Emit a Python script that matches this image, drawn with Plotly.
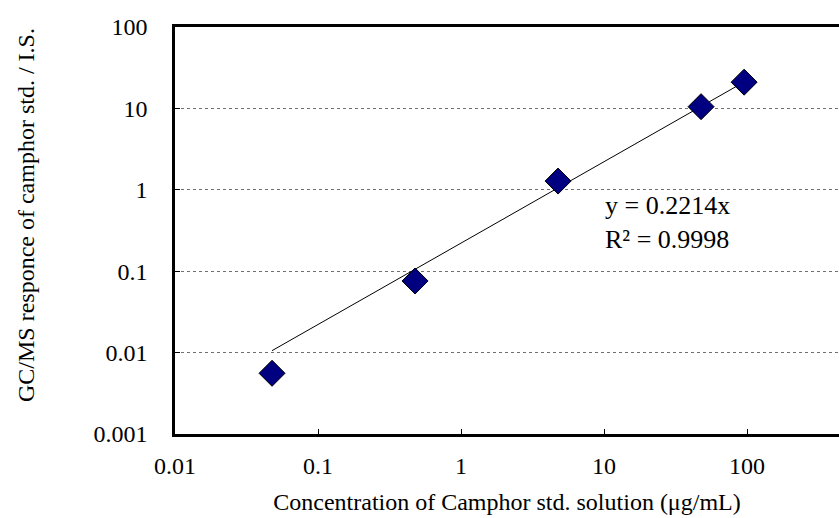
import numpy as np
import plotly.graph_objects as go

conc = [0.0477, 0.477, 4.77, 47.7, 95.4]
resp = [0.00557, 0.0758, 1.28, 10.5, 21.0]
slope = 0.2214
y_ticks = [0.001, 0.01, 0.1, 1, 10, 100]
y_tick_labels = ["0.001", "0.01", "0.1", "1", "10", "100"]
x_ticks = [0.01, 0.1, 1, 10, 100]
x_tick_labels = ["0.01", "0.1", "1", "10", "100"]

FONT = "Liberation Serif, Times New Roman, serif"

fit_x = [conc[0], conc[-1]]
fit_y = [slope * v for v in fit_x]

fig = go.Figure()
fig.add_trace(go.Scatter(x=fit_x, y=fit_y, mode="lines",
                         line=dict(color="black", width=1), showlegend=False))
fig.add_trace(go.Scatter(x=conc, y=resp, mode="markers",
                         marker=dict(symbol="diamond", size=20, color="#000080",
                                     line=dict(color="black", width=1)),
                         showlegend=False))

fig.add_annotation(x=0.645, y=0.52, xref="paper", yref="paper",
                   text="y = 0.2214x<br>R² = 0.9998", showarrow=False,
                   xanchor="left", yanchor="middle", align="left",
                   font=dict(family=FONT, size=26, color="black"))

# y-axis title placed as rotated annotation
fig.add_annotation(x=-0.2244, y=0.538, xref="paper", yref="paper",
                   text="GC/MS responce of camphor std. / I.S.", showarrow=False,
                   textangle=-90, xanchor="center", yanchor="middle",
                   font=dict(family=FONT, size=24, color="black"))

fig.update_layout(
    width=839, height=518,
    margin=dict(l=175, r=0, t=27, b=84),
    paper_bgcolor="white", plot_bgcolor="white",
    font=dict(family=FONT, size=24, color="black"),
    xaxis=dict(type="log", range=[-2, 2.643],
               tickvals=x_ticks, ticktext=x_tick_labels,
               ticks="inside", ticklen=5, tickcolor="black", tickwidth=1,
               ticklabelstandoff=8,
               showline=True, linecolor="black", linewidth=2.5, mirror=True,
               showgrid=False, zeroline=False,
               title=dict(text="Concentration of Camphor std. solution (μg/mL)",
                          font=dict(family=FONT, size=24), standoff=16),
               tickfont=dict(family=FONT, size=24)),
    yaxis=dict(type="log", range=[-3, 2],
               tickvals=y_ticks, ticktext=y_tick_labels,
               ticks="inside", ticklen=5, tickcolor="black", tickwidth=1,
               ticklabelstandoff=20,
               showline=True, linecolor="black", linewidth=2.5, mirror=False,
               showgrid=True, gridcolor="#707070", griddash="dot", gridwidth=1,
               zeroline=False,
               tickfont=dict(family=FONT, size=24)),
)

fig.write_html("out.html")
